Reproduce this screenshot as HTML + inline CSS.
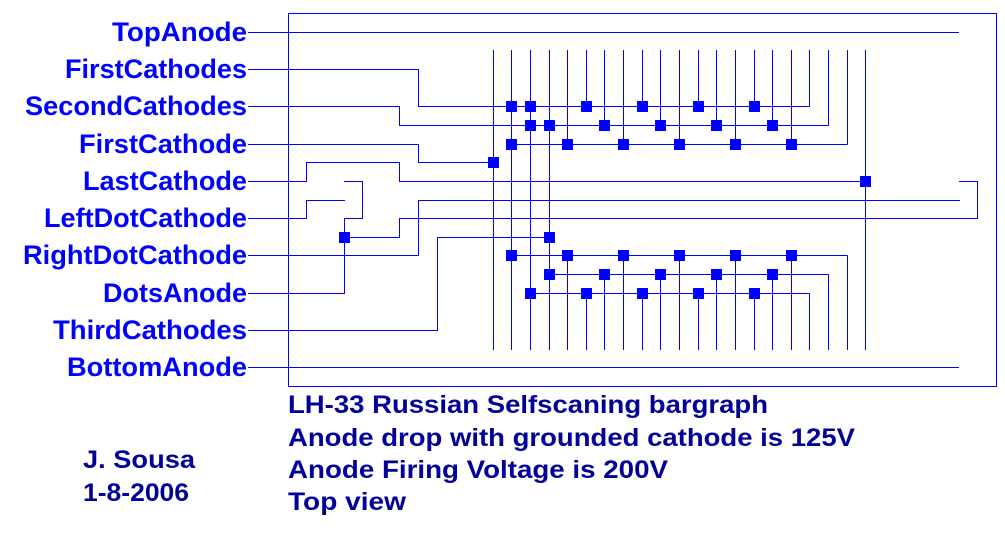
<!DOCTYPE html>
<html><head><meta charset="utf-8"><style>
html,body{margin:0;padding:0;background:#fff;width:1005px;height:539px;overflow:hidden}
svg{display:block}
.l{font-family:"Liberation Sans",Arial,sans-serif;font-weight:bold;font-size:27px;fill:#0000ff}
.b{font-family:"Liberation Sans",Arial,sans-serif;font-weight:bold;font-size:25px;fill:#000099}
</style></head><body>
<svg width="1005" height="539" viewBox="0 0 1005 539" xmlns="http://www.w3.org/2000/svg">
<g stroke="#0000ff" stroke-width="1" fill="none" shape-rendering="crispEdges">
<rect x="288.5" y="13.5" width="708" height="373"/>
<polyline points="248,32.5 959,32.5"/>
<polyline points="248,367.5 959,367.5"/>
<polyline points="248,69.5 418.5,69.5 418.5,106.5 809.5,106.5"/>
<polyline points="248,106.5 399.5,106.5 399.5,125.5 828.5,125.5"/>
<polyline points="248,144.5 418.5,144.5 418.5,162.5 493.5,162.5"/>
<polyline points="511.5,144.5 847.5,144.5"/>
<polyline points="248,181.5 306.5,181.5 306.5,162.5 399.5,162.5 399.5,181.5 865.5,181.5"/>
<polyline points="248,218.5 306.5,218.5 306.5,200.5 345,200.5"/>
<polyline points="248,255.5 418.5,255.5 418.5,200.5 960,200.5"/>
<polyline points="248,293.5 344.5,293.5 344.5,218.5 362.5,218.5 362.5,181.5 344,181.5"/>
<polyline points="344.5,237.5 399.5,237.5 399.5,218.5 977.5,218.5 977.5,181.5 959,181.5"/>
<polyline points="248,330.5 437.5,330.5 437.5,237.5 549.5,237.5"/>
<polyline points="511.5,255.5 847.5,255.5"/>
<polyline points="549.5,274.5 828.5,274.5"/>
<polyline points="530.5,293.5 809.5,293.5"/>
<line x1="493.5" y1="50" x2="493.5" y2="350"/>
<line x1="511.5" y1="50" x2="511.5" y2="350"/>
<line x1="530.5" y1="50" x2="530.5" y2="350"/>
<line x1="549.5" y1="50" x2="549.5" y2="350"/>
<line x1="865.5" y1="50" x2="865.5" y2="350"/>
<path d="M567.5 50V144.5M567.5 255.5V350M623.5 50V144.5M623.5 255.5V350M679.5 50V144.5M679.5 255.5V350M735.5 50V144.5M735.5 255.5V350M791.5 50V144.5M791.5 255.5V350M847.5 50V144.5M847.5 255.5V350"/>
<path d="M586.5 50V106.5M586.5 293.5V350M642.5 50V106.5M642.5 293.5V350M698.5 50V106.5M698.5 293.5V350M754.5 50V106.5M754.5 293.5V350M809.5 50V106.5M809.5 293.5V350"/>
<path d="M604.5 50V125.5M604.5 274.5V350M660.5 50V125.5M660.5 274.5V350M716.5 50V125.5M716.5 274.5V350M772.5 50V125.5M772.5 274.5V350M828.5 50V125.5M828.5 274.5V350"/>
</g>
<g fill="#0000ff" shape-rendering="crispEdges">
<rect x="506" y="101" width="11" height="11"/><rect x="525" y="101" width="11" height="11"/><rect x="581" y="101" width="11" height="11"/><rect x="637" y="101" width="11" height="11"/><rect x="693" y="101" width="11" height="11"/><rect x="749" y="101" width="11" height="11"/>
<rect x="525" y="120" width="11" height="11"/><rect x="544" y="120" width="11" height="11"/><rect x="599" y="120" width="11" height="11"/><rect x="655" y="120" width="11" height="11"/><rect x="711" y="120" width="11" height="11"/><rect x="767" y="120" width="11" height="11"/>
<rect x="506" y="139" width="11" height="11"/><rect x="562" y="139" width="11" height="11"/><rect x="618" y="139" width="11" height="11"/><rect x="674" y="139" width="11" height="11"/><rect x="730" y="139" width="11" height="11"/><rect x="786" y="139" width="11" height="11"/>
<rect x="488" y="157" width="11" height="11"/>
<rect x="860" y="176" width="11" height="11"/>
<rect x="339" y="232" width="11" height="11"/><rect x="544" y="232" width="11" height="11"/>
<rect x="506" y="250" width="11" height="11"/><rect x="562" y="250" width="11" height="11"/><rect x="618" y="250" width="11" height="11"/><rect x="674" y="250" width="11" height="11"/><rect x="730" y="250" width="11" height="11"/><rect x="786" y="250" width="11" height="11"/>
<rect x="544" y="269" width="11" height="11"/><rect x="599" y="269" width="11" height="11"/><rect x="655" y="269" width="11" height="11"/><rect x="711" y="269" width="11" height="11"/><rect x="767" y="269" width="11" height="11"/>
<rect x="525" y="288" width="11" height="11"/><rect x="581" y="288" width="11" height="11"/><rect x="637" y="288" width="11" height="11"/><rect x="693" y="288" width="11" height="11"/><rect x="749" y="288" width="11" height="11"/>
</g>
<g class="l">
<text x="112" y="41" textLength="135" lengthAdjust="spacingAndGlyphs">TopAnode</text>
<text x="65" y="78" textLength="182" lengthAdjust="spacingAndGlyphs">FirstCathodes</text>
<text x="25" y="115" textLength="222" lengthAdjust="spacingAndGlyphs">SecondCathodes</text>
<text x="79" y="153" textLength="168" lengthAdjust="spacingAndGlyphs">FirstCathode</text>
<text x="83" y="190" textLength="164" lengthAdjust="spacingAndGlyphs">LastCathode</text>
<text x="44" y="227" textLength="203" lengthAdjust="spacingAndGlyphs">LeftDotCathode</text>
<text x="23" y="264" textLength="224" lengthAdjust="spacingAndGlyphs">RightDotCathode</text>
<text x="103" y="302" textLength="144" lengthAdjust="spacingAndGlyphs">DotsAnode</text>
<text x="53" y="339" textLength="194" lengthAdjust="spacingAndGlyphs">ThirdCathodes</text>
<text x="67" y="376" textLength="180" lengthAdjust="spacingAndGlyphs">BottomAnode</text>
</g>
<g class="b">
<text x="288" y="413" textLength="480" lengthAdjust="spacingAndGlyphs">LH-33 Russian Selfscaning bargraph</text>
<text x="288" y="446" textLength="567" lengthAdjust="spacingAndGlyphs">Anode drop with grounded cathode is 125V</text>
<text x="288" y="478" textLength="380" lengthAdjust="spacingAndGlyphs">Anode Firing Voltage is 200V</text>
<text x="288" y="510" textLength="118" lengthAdjust="spacingAndGlyphs">Top view</text>
<text x="83" y="468" textLength="112" lengthAdjust="spacingAndGlyphs">J. Sousa</text>
<text x="83" y="501" textLength="106" lengthAdjust="spacingAndGlyphs">1-8-2006</text>
</g>
</svg>
</body></html>
